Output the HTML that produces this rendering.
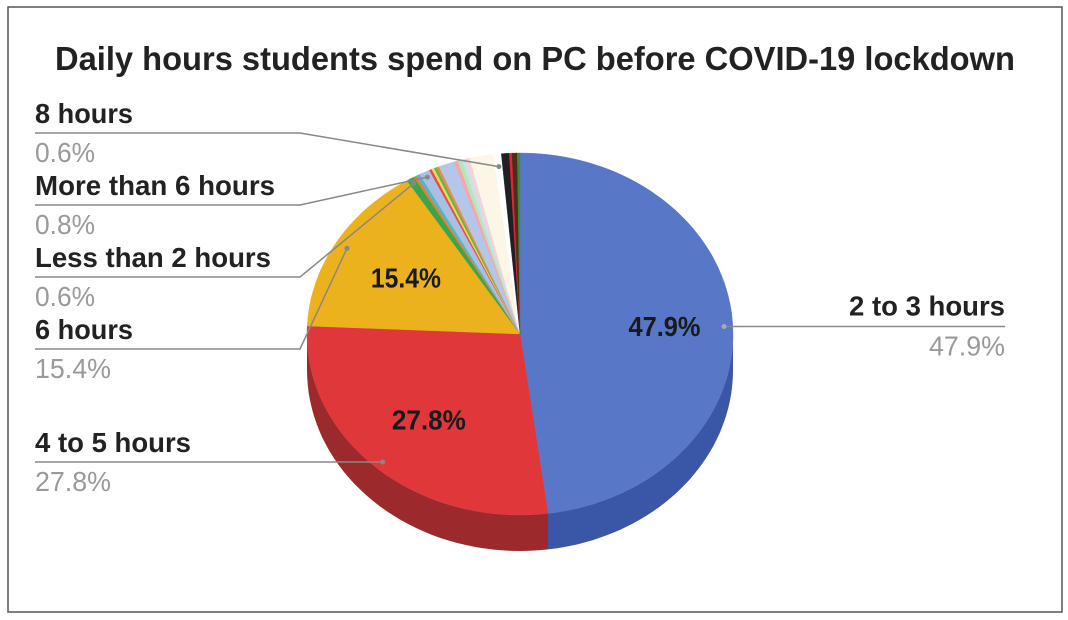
<!DOCTYPE html>
<html><head><meta charset="utf-8"><style>
html,body{margin:0;padding:0;background:#fff;}
svg{display:block;font-family:"Liberation Sans",Arial,sans-serif;}
</style></head><body>
<svg id="chart" width="1068" height="620" viewBox="0 0 1068 620">
<rect x="8" y="7" width="1054" height="605" fill="#fff" stroke="#555" stroke-width="1.5"/>
<text x="535" y="70" text-anchor="middle" font-size="33" font-weight="bold" fill="#222" textLength="960" lengthAdjust="spacingAndGlyphs">Daily hours students spend on PC before COVID-19 lockdown</text>
<g id="sides"></g><g id="tops"></g><g id="labels"></g>
</svg>
<script>
const sliceNames = ["2 to 3 hours","4 to 5 hours","6 hours","Less than 2 hours","s5","s6","More than 6 hours","s8","s9","s10","s11","s12","s13","s14","s15","s16","s17","8 hours","s19","s20","s21","s22"];
const sliceValues = [47.9,27.8,15.4,0.6,0.2,0.3,0.8,0.2,0.2,0.2,0.2,1.2,0.3,0.3,0.3,0.3,1.8,0.6,0.6,0.2,0.4,0.2];
const sliceColors = ["#5877c6","#e0373a","#ecb21e","#3aa54a","#f07a30","#54b8c4","#a9bfe6","#e84a4a","#f2d84c","#57b85a","#f08a40","#b4c6ea","#f4a6b0","#bfe3b0","#bfe6e8","#f9d0d8","#fbf6e6","#ffffff","#1f1f24","#e8203a","#4a2e16","#3c8a3a"];
const sideColors = ["#3a56a6","#9c2a2c"];
const labelNames = ["8 hours","More than 6 hours","Less than 2 hours","6 hours","4 to 5 hours"];
const labelValues = ["0.6%","0.8%","0.6%","15.4%","27.8%"];
const innerLabels = ["47.9%","27.8%","15.4%"];

const NS="http://www.w3.org/2000/svg";
const cx=520, cy=334, rx=213, ry=181, depth=36;
const total=sliceValues.reduce((a,b)=>a+b,0);
function pt(th,dy){return [cx+rx*Math.sin(th), cy-ry*Math.cos(th)+(dy||0)];}
function mk(tag,attrs,parent){const e=document.createElementNS(NS,tag);for(const k in attrs)e.setAttribute(k,attrs[k]);parent.appendChild(e);return e;}
const sides=document.getElementById('sides'), tops=document.getElementById('tops'), labels=document.getElementById('labels');
let acc=0; const angles=[];
sliceValues.forEach((v,i)=>{
  const a0=acc/total*2*Math.PI; acc+=v; const a1=acc/total*2*Math.PI;
  angles.push([a0,a1]);
  const s0=Math.max(a0,Math.PI/2), s1=Math.min(a1,1.5*Math.PI);
  if(s1>s0){
    let d=""; const n=40;
    for(let k=0;k<=n;k++){const p=pt(s0+(s1-s0)*k/n);d+=(k?"L":"M")+p[0].toFixed(1)+","+p[1].toFixed(1);}
    for(let k=n;k>=0;k--){const p=pt(s0+(s1-s0)*k/n,depth);d+="L"+p[0].toFixed(1)+","+p[1].toFixed(1);}
    const side=mk('path',{d:d+"Z",fill:sideColors[i]||"#333"},sides);
    
    
  }
  let d="M"+cx+","+cy; const n=Math.max(4,Math.ceil((a1-a0)*40));
  for(let k=0;k<=n;k++){const p=pt(a0+(a1-a0)*k/n);d+="L"+p[0].toFixed(1)+","+p[1].toFixed(1);}
  const top=mk('path',{d:d+"Z",fill:sliceColors[i],stroke:sliceColors[i],"stroke-width":0.4},tops);
  
  
});
function mid(i,f){const a=angles[i];const m=(a[0]+a[1])/2;return [cx+rx*f*Math.sin(m), cy-ry*f*Math.cos(m)];}
[[0,0.68,72,0,0],[1,0.55,74,-12,12],[2,0.62,70,0,0]].forEach(([i,f,w,ox,oy],j)=>{
  const p=mid(i,f);
  const t=mk('text',{x:p[0]+ox,y:p[1]+10+oy,"text-anchor":"middle","font-size":28,"font-weight":"bold",fill:"#1a1a1a",textLength:w,lengthAdjust:"spacingAndGlyphs"},labels);
  t.textContent=innerLabels[j];
  
  
});
const lblY=[123,195,267,339,452];
const lblW=[98,240,236,98,156];
const valW=[60,60,60,76,76];
const lineTargets=[[17,0.93],[6,0.97],[3,0.97],[2,0.94],[1,0.955]];
labelNames.forEach((name,j)=>{
  const y=lblY[j];
  const t=mk('text',{x:35,y:y,"font-size":28,"font-weight":"bold",fill:"#222",textLength:lblW[j],lengthAdjust:"spacingAndGlyphs"},labels);
  t.textContent=name;
  
  
  const v=mk('text',{x:35,y:y+39,"font-size":28,fill:"#9a9a9a",textLength:valW[j],lengthAdjust:"spacingAndGlyphs"},labels);
  v.textContent=labelValues[j];
  
  
  const [si,f]=lineTargets[j]; const p=mid(si,f);
  const ly=y+10;
  const pts = j==4 ? `35,${ly} ${p[0].toFixed(1)},${ly}` : `35,${ly} 300,${ly} ${p[0].toFixed(1)},${p[1].toFixed(1)}`;
  const l=mk('polyline',{points:pts,fill:"none",stroke:"#888","stroke-width":1.5},labels);
  
  
  const c=mk('circle',{cx:p[0],cy:(j==4?ly:p[1]),r:2.5,fill:"#888"},labels);
  
  
});
const pr=mid(0,0.96);
const ry0=pr[1]+4;
const rl=mk('polyline',{points:`${pr[0].toFixed(1)},${ry0.toFixed(1)} 1005,${ry0.toFixed(1)}`,fill:"none",stroke:"#888","stroke-width":1.5},labels);


const rc=mk('circle',{cx:pr[0],cy:ry0,r:2.5,fill:"#aaa"},labels);


const rt=mk('text',{x:1005,y:ry0-11,"text-anchor":"end","font-size":28,"font-weight":"bold",fill:"#222",textLength:156,lengthAdjust:"spacingAndGlyphs"},labels);
rt.textContent=sliceNames[0];


const rv=mk('text',{x:1005,y:ry0+29,"text-anchor":"end","font-size":28,fill:"#9a9a9a",textLength:76,lengthAdjust:"spacingAndGlyphs"},labels);
rv.textContent=sliceValues[0].toFixed(1)+"%";


</script>
</body></html>
